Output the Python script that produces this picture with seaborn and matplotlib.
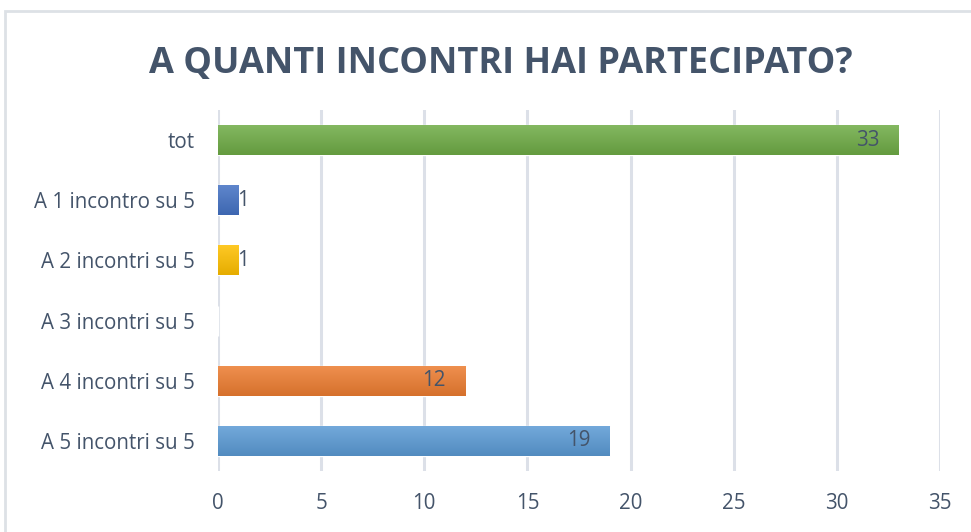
import matplotlib
matplotlib.use("Agg")
import matplotlib.pyplot as plt
import seaborn as sns
import pandas as pd
import numpy as np
from matplotlib.patches import Rectangle
from matplotlib.colors import to_rgb

categories = ["tot", "A 1 incontro su 5", "A 2 incontri su 5", "A 3 incontri su 5",
              "A 4 incontri su 5", "A 5 incontri su 5"]
values = [33, 1, 1, 0, 12, 19]
colors = ["#6FAC46", "#4472C4", "#FFC000", "#A5A5A5", "#ED7D31", "#5B9BD5"]
xticks = [0, 5, 10, 15, 20, 25, 30, 35]
title = "A QUANTI INCONTRI HAI PARTECIPATO?"

sns.set_theme(style="white")
plt.rcParams['font.family'] = ['Open Sans', 'DejaVu Sans']
text_color = "#44546A"

df = pd.DataFrame({"cat": categories, "val": values})

fig = plt.figure(figsize=(9.71, 5.32), dpi=100)
ax = fig.add_axes([218/971, 1-471/532, (940-218)/971, (471-110)/532])

sns.barplot(data=df, y="cat", x="val", hue="cat", palette=colors, legend=False,
            width=0.5, ax=ax, orient="h", saturation=1)

ax.set_xlim(0, 35)
ax.set_ylim(5.5, -0.5)

# vertical gradient overlay on each bar (lighter top, darker bottom)
for patch in list(ax.patches):
    w = patch.get_width()
    if w <= 0:
        continue
    base = np.array(to_rgb(patch.get_facecolor()))
    top = base + (1 - base) * 0.15
    bot = base * 0.9
    t = np.linspace(0, 1, 64)[:, None]
    grad = (top[None, :] * (1 - t) + bot[None, :] * t)[:, None, :]
    x0, y0 = patch.get_x(), patch.get_y()
    h = patch.get_height()
    im = ax.imshow(grad, extent=(x0, x0 + w, y0 + h, y0), aspect="auto",
                   interpolation="bilinear", zorder=patch.get_zorder() + 0.1, origin="upper")
    im.set_clip_path(patch)

ax.set_xlim(0, 35)
ax.set_ylim(5.5, -0.5)
ax.set_xticks(xticks)
ax.set_xlabel("")
ax.set_ylabel("")
ax.grid(axis="x", color="#DCE0E8", linewidth=2.2)
ax.set_axisbelow(True)
for s in ax.spines.values():
    s.set_visible(False)
ax.tick_params(axis="both", length=0, labelsize=14.8, colors=text_color)
ax.tick_params(axis="x", pad=16)
ax.tick_params(axis="y", pad=17)

for i, v in enumerate(values):
    if v == 0:
        continue
    if v >= 5:
        ax.annotate(str(v), (v, i), xytext=(-14, 0), textcoords="offset points",
                    ha="right", va="center", fontsize=14.8, color=text_color, zorder=5)
    else:
        ax.annotate(str(v), (v, i), xytext=(-1, 0), textcoords="offset points",
                    ha="left", va="center", fontsize=14.8, color=text_color, zorder=5)

fig.text(501/971, 1-64/532, title, ha="center", va="center", fontsize=26,
         fontweight="bold", color=text_color)

fig.patches.append(Rectangle((5/971, -0.1), 1.2, 1.1 - 11/532, transform=fig.transFigure,
                             fill=False, edgecolor="#DDE1E6", linewidth=2))

fig.savefig("out.png", dpi=100)
